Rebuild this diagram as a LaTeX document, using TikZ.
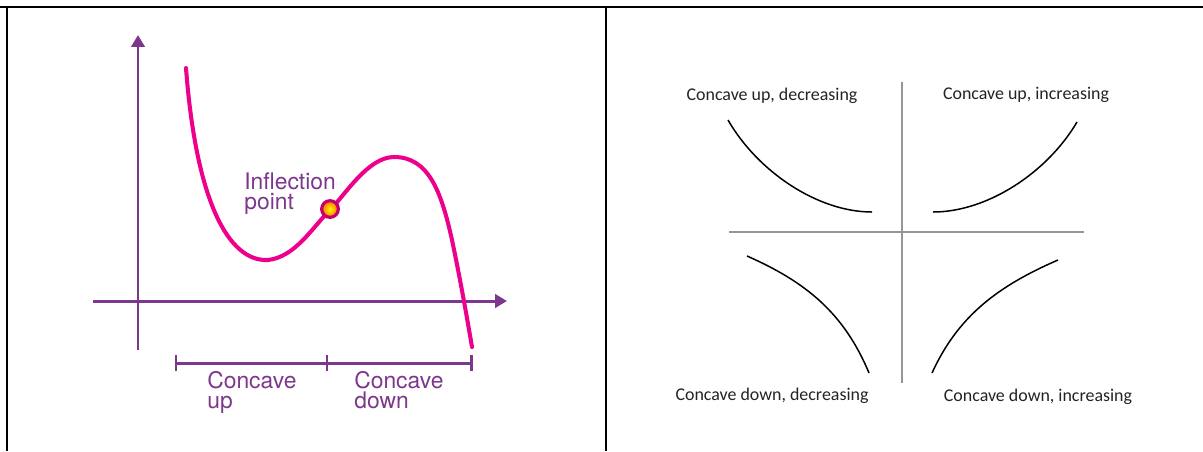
\documentclass[tikz,border=0pt]{standalone}
\usepackage{fontspec}
\setmainfont{Carlito}
\newfontfamily\graphfont{TeX Gyre Heros}
\usetikzlibrary{arrows.meta}
\definecolor{axispurple}{RGB}{125,55,140}
\definecolor{curvepink}{RGB}{236,0,140}
\definecolor{ringpink}{RGB}{195,0,110}
\definecolor{quadgray}{RGB}{150,150,150}
\definecolor{labelgray}{RGB}{35,35,35}
\begin{document}
\begin{tikzpicture}[x=0.02cm,y=-0.02cm,
    axis/.style={axispurple,line width=1.7pt,-{Triangle[length=6.8pt,width=7.6pt]}},
    bracket/.style={axispurple,line width=1.7pt},
    purpletext/.style={axispurple,inner sep=0pt,align=left,anchor=north west,
      font=\graphfont\fontsize{13}{11.6}\selectfont},
    quadtext/.style={labelgray,inner sep=0pt,anchor=base,
      font=\fontsize{10.2}{12}\selectfont},
    quadaxis/.style={quadgray,line width=0.85pt},
    quadcurve/.style={black,line width=0.85pt}]
    \useasboundingbox (0,0) rectangle (1203,451);
    % table rules
    \draw[line width=1.1pt] (0,7) -- (75,7) (525,7) -- (1203,7);
    \draw[line width=0.6pt] (75,7) -- (525,7);
    \draw[line width=0.6pt] (7,7) -- (7,451);
    \draw[line width=0.8pt] (606,7) -- (606,451);
    % left: axes
    \coordinate (ybot) at (138,350);
    \coordinate (ytop) at (138,35);
    \coordinate (xleft) at (93,301);
    \coordinate (xright) at (507,301);
    \draw[axis] (ybot) -- (ytop);
    \draw[axis] (xleft) -- (xright);
    % left: the cubic
    \draw[curvepink,line width=2.3pt,line cap=round]
      (186,68) .. controls (196,200) and (228,262) .. (268,260)
      .. controls (295,257) and (312,228) .. (330,210)
      .. controls (345,195) and (368,157) .. (394,157)
      .. controls (428,157) and (441,190) .. (452,240)
      .. controls (460,278) and (466,312) .. (472,347);
    \node[circle,draw=ringpink,line width=1.8pt,inner sep=0pt,minimum size=9.5pt,
      inner color=yellow!90!orange,outer color=orange!90!red] (infl) at (330,209) {};
    \node[purpletext] (infllabel) at (244,172) {Inflection\\point};
    % left: intervals
    \coordinate (bl) at (176,363);
    \coordinate (bm) at (327,363);
    \coordinate (br) at (471,363);
    \draw[bracket] (bl) -- (br);
    \foreach \p in {bl,bm,br}
      \draw[bracket] ([yshift=-0.16cm]\p) -- ([yshift=0.17cm]\p);
    \node[purpletext] (uplabel) at (207,371) {Concave\\up};
    \node[purpletext] (downlabel) at (354,371) {Concave\\down};
    % right: quadrants
    \coordinate (vtop) at (902,82);
    \coordinate (vbot) at (902,383);
    \coordinate (hleft) at (729,232);
    \coordinate (hright) at (1084,232);
    \draw[quadaxis] (vtop) -- (vbot);
    \draw[quadaxis] (hleft) -- (hright);
    \draw[quadcurve] (728,120) .. controls (758,172) and (818,212) .. (872,212);
    \draw[quadcurve] (1077,122) .. controls (1047,173) and (987,212) .. (933,212);
    \draw[quadcurve] (747,256) .. controls (806,282) and (844,313) .. (869,373);
    \draw[quadcurve] (1058,260) .. controls (998,286) and (958,316) .. (932,373);
    \node[quadtext] (uldec) at (772,100) {Concave up, decreasing};
    \node[quadtext] (ulinc) at (1026,99) {Concave up, increasing};
    \node[quadtext] (dndec) at (772,400) {Concave down, decreasing};
    \node[quadtext] (dninc) at (1038,401) {Concave down, increasing};
\end{tikzpicture}
\end{document}
